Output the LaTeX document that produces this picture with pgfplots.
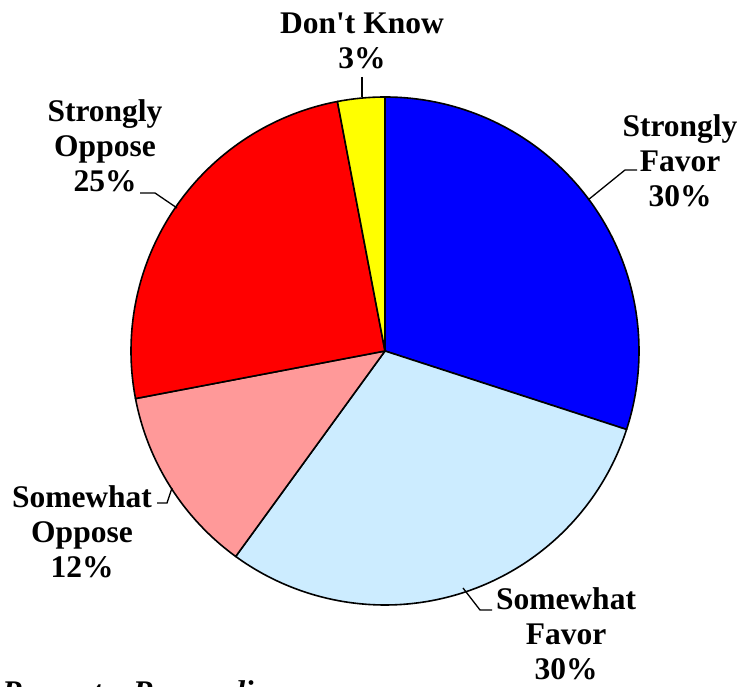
\documentclass[border=0pt]{standalone}
\usepackage{pgfplots}
\usepackage{pgfplotstable}
\pgfplotsset{compat=1.18}
\usepackage{fontspec}
\setmainfont{Liberation Serif}
\newfontfamily\nolig{Liberation Serif}
\definecolor{pieblue}{HTML}{0000FF}
\definecolor{pielight}{HTML}{CCECFF}
\definecolor{piepink}{HTML}{FF9999}
\definecolor{piered}{HTML}{FF0000}
\definecolor{pieyellow}{HTML}{FFFF00}
\pgfplotstableread{
label value color
StronglyFavor 30 pieblue
SomewhatFavor 30 pielight
SomewhatOppose 12 piepink
StronglyOppose 25 piered
DontKnow 3 pieyellow
}\piedata
\begin{document}
\begin{tikzpicture}
\begin{axis}[x=1pt,y=1pt,xmin=0,xmax=742,ymin=0,ymax=687,hide axis,clip=false,
  at={(0,0)},anchor=south west,scale only axis]
\def\a{90}
\pgfplotsforeachungrouped \i in {0,...,4}{%
  \pgfplotstablegetelem{\i}{value}\of\piedata \let\v\pgfplotsretval
  \pgfplotstablegetelem{\i}{color}\of\piedata \let\c\pgfplotsretval
  \pgfmathsetmacro\b{\a-3.6*\v}%
  \edef\temp{\noexpand\filldraw[fill=\c, draw=black, line width=1.6pt, line join=round] (axis cs:385,336) -- ++(\a:254pt) arc[start angle=\a, end angle=\b, radius=254pt] -- cycle;}%
  \temp
  \global\let\a\b
}
\tikzset{lbl/.style={align=center, font=\nolig\fontsize{31.5}{35}\selectfont\bfseries, inner sep=0pt}}
\draw[line width=1.3pt] (axis cs:362,610)--(axis cs:362,590);
\draw[line width=1.3pt] (axis cs:588,487)--(axis cs:625,517)--(axis cs:637,517);
\draw[line width=1.3pt] (axis cs:140,494)--(axis cs:155,494)--(axis cs:177,479);
\draw[line width=1.3pt] (axis cs:157,184)--(axis cs:167,184)--(axis cs:172,199);
\draw[line width=1.3pt] (axis cs:463,99)--(axis cs:480,77)--(axis cs:492,77);
\node[lbl] at (axis cs:362,646) {Don't Know\\3\%};
\node[lbl] at (axis cs:680,526) {Strongly\\Favor\\30\%};
\node[lbl] at (axis cs:105,541) {Strongly\\Oppose\\25\%};
\node[lbl] at (axis cs:82,155) {Somewhat\\Oppose\\12\%};
\node[lbl] at (axis cs:566,53) {Somewhat\\Favor\\30\%};
\node[anchor=base west, inner sep=0pt, font=\fontsize{31.5}{35}\selectfont\bfseries\itshape] at (axis cs:2,-16) {Percent\hspace{23pt} Responding};
\end{axis}
\pgfresetboundingbox
\path[use as bounding box] (0,0) rectangle (742pt,687pt);
\end{tikzpicture}
\end{document}
